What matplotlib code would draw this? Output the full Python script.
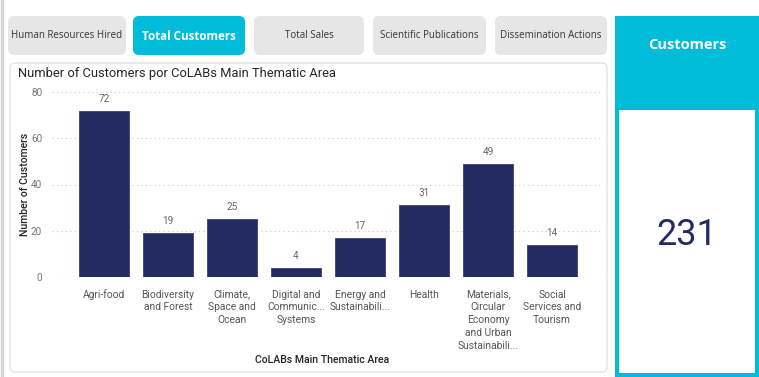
import matplotlib
matplotlib.use("Agg")
import matplotlib.pyplot as plt
from matplotlib.patches import FancyBboxPatch, Rectangle

# Data
categories = ["Agri-food", "Biodiversity\nand Forest", "Climate,\nSpace and\nOcean",
              "Digital and\nCommunic...\nSystems", "Energy and\nSustainabili...", "Health",
              "Materials,\nCircular\nEconomy\nand Urban\nSustainabili...",
              "Social\nServices and\nTourism"]
customers = [72, 19, 25, 4, 17, 31, 49, 14]
yticks = [0, 20, 40, 60, 80]
buttons = ["Human Resources Hired", "Total Customers", "Total Sales",
           "Scientific Publications", "Dissemination Actions"]
active_button = "Total Customers"
card_title = "Customers"
total_customers = sum(customers)

W, H = 759, 377
navy = "#232b62"
cyan = "#00bcd8"
font = ["Roboto", "DejaVu Sans"]
ui_font = ["Open Sans", "DejaVu Sans"]

fig = plt.figure(figsize=(W / 100, H / 100), dpi=100)
fig.patch.set_facecolor("white")

# background axes in pixel coordinates
bg = fig.add_axes([0, 0, 1, 1])
bg.set_xlim(0, W)
bg.set_ylim(H, 0)
bg.axis("off")

# faint left border
bg.plot([1.5, 1.5], [0, H], color="#d6d6d6", lw=2.5)

# buttons
btn_x = [8, 133, 254, 373, 495]
btn_w = [118, 112, 110, 113, 112]
for name, x, w in zip(buttons, btn_x, btn_w):
    on = name == active_button
    bg.add_patch(FancyBboxPatch((x + 6, 22), w - 12, 27,
                                boxstyle="round,pad=6",
                                fc=cyan if on else "#e6e6e6", ec="none"))
    bg.text(x + w / 2, 36, name, ha="center", va="center",
            fontsize=8.4 if on else 7.0, family=ui_font,
            fontweight="bold" if on else "normal",
            color="white" if on else "#333333")

# chart card
bg.add_patch(FancyBboxPatch((15, 68), 587, 299, boxstyle="round,pad=5",
                            fc="white", ec="#e3e3e3", lw=1))
bg.text(18, 74, "Number of Customers por CoLABs Main Thematic Area",
        ha="left", va="center", fontsize=9.3, family=font, color="#252525")
bg.text(25, 184, "Number of Customers", rotation=90, ha="center", va="center",
        fontsize=7.6, family=font, fontweight="medium", color="#252525")
bg.text(322, 360, "CoLABs Main Thematic Area", ha="center", va="center",
        fontsize=7.6, family=font, fontweight="medium", color="#252525")

# KPI card
bg.add_patch(Rectangle((615, 16), 144, 361, fc=cyan, ec="none"))
bg.add_patch(Rectangle((619, 110), 136, 263, fc="white", ec="none"))
bg.text(687, 45, card_title, ha="center", va="center", fontsize=10.5,
        family=ui_font, fontweight="bold", color="white")
bg.text(687, 235, str(total_customers), ha="center", va="center", fontsize=26,
        family=font, color=navy)

# bar chart
ax = fig.add_axes([52 / W, 1 - 277 / H, 550 / W, 185 / H])
x = range(len(categories))
bars = ax.bar(x, customers, width=0.78, color=navy, edgecolor="#3a4278",
              linewidth=0.6, zorder=3)
for b, v in zip(bars, customers):
    ax.annotate(str(v), (b.get_x() + b.get_width() / 2, v), xytext=(0, 5),
                textcoords="offset points", ha="center", va="bottom",
                fontsize=7.2, family=font, color="#666666")
ax.set_xlim(-0.8125, 7.78)
ax.set_ylim(0, 80)
ax.set_yticks(yticks)
ax.set_xticks(list(x))
ax.set_xticklabels(categories, fontsize=7.4, family=font, color="#555555",
                   linespacing=1.35, va="top")
ax.tick_params(axis="x", length=0, pad=9)
ax.tick_params(axis="y", length=0, pad=7, labelsize=7.2, labelcolor="#777777")
for lbl in ax.get_yticklabels():
    lbl.set_family(font)
ax.grid(axis="y", linestyle=(0, (1, 3)), color="#c8c8c8", lw=0.8, zorder=0)
for s in ax.spines.values():
    s.set_visible(False)
ax.set_facecolor("none")

fig.savefig("out.png", dpi=100)
